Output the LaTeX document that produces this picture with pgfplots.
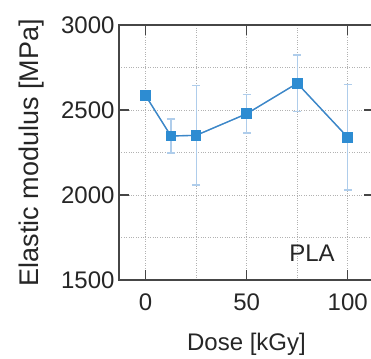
\documentclass[border=0pt]{standalone}
\usepackage{pgfplots}
\pgfplotsset{compat=1.18}
\usepackage{fontspec}
\setmainfont{Liberation Sans}
\definecolor{mblue}{RGB}{45,140,210}
\definecolor{lblue}{RGB}{60,135,200}
\definecolor{ebar}{RGB}{175,205,235}
\definecolor{frame}{RGB}{70,70,70}
\begin{document}
\begin{tikzpicture}
\clip (-119pt,-78pt) rectangle (252pt,280pt);
\begin{axis}[
  at={(0pt,0pt)}, anchor=south west,
  scale only axis, width=255pt, height=255pt,
  xmin=-13.2, xmax=113, ymin=1500, ymax=3000,
  xtick={0,50,100}, minor xtick={25,75},
  ytick={1500,2000,2500,3000}, minor ytick={1750,2250,2750},
  tick align=inside, major tick length=10pt, minor tick length=0pt,
  tick style={frame, line width=1.4pt},
  axis line style={frame, line width=1.6pt},
  grid=both,
  major grid style={gray!60, dotted, line width=0.9pt},
  minor grid style={gray!60, dotted, line width=0.9pt},
  /pgf/number format/assume math mode=true,
  /pgf/number format/set thousands separator={},
  ticklabel style={font=\fontsize{24}{26}\selectfont, text=black!85},
  xticklabel style={yshift=-10pt},
  yticklabel style={xshift=-1pt},
  xlabel={Dose [kGy]}, ylabel={Elastic modulus [MPa]},
  xlabel style={font=\fontsize{24}{26}\selectfont, text=black!85, yshift=-16pt},
  ylabel style={font=\fontsize{27}{29}\selectfont, text=black!85, yshift=10pt},
  clip=false,
]
\addplot[ebar, line width=1.2pt, forget plot,
  error bars/.cd, y dir=both, y explicit,
  error bar style={ebar, line width=1.2pt}, error mark options={rotate=90, mark size=4pt, ebar, line width=1.2pt}]
  coordinates {
  (0,2584) +- (0,30)
  (12.5,2347) +- (0,100)
  (25,2351) +- (0,292)
  (50,2478) +- (0,113)
  (75,2657) +- (0,167)
  (100,2339) +- (0,310)
  };
\addplot[lblue, line width=1.4pt, mark=square*, mark size=4.6pt,
  mark options={fill=mblue, draw=mblue}]
  coordinates {
  (0,2584) (12.5,2347) (25,2351) (50,2478) (75,2657) (100,2339)
  };
\node[font=\fontsize{24}{26}\selectfont, text=black!85] at (axis cs:82.3,1659) {PLA};
\end{axis}
\end{tikzpicture}
\end{document}
